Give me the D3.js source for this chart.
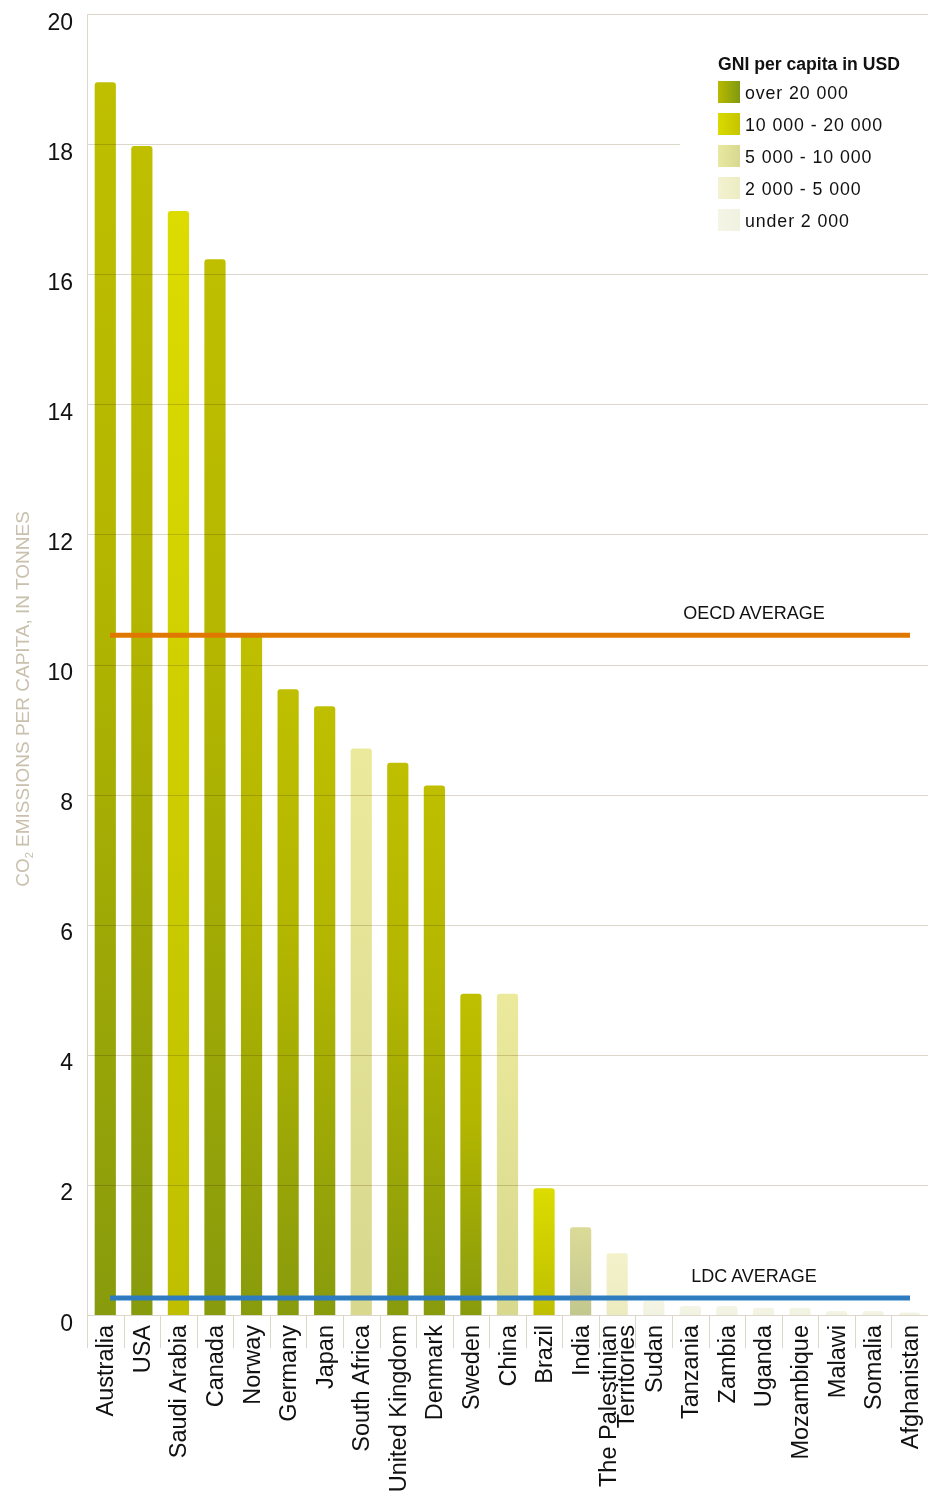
<!DOCTYPE html>
<html>
  <head>
    <style>
      body { margin: 0; background: #fff; }
      text { font-family: "Liberation Sans", Arial, sans-serif; }
      .tick-label { font-size: 23px; fill: #111; }
      .cat-label { font-size: 23.5px; fill: #111; }
      .grid line { stroke: #ddd6ca; stroke-width: 1; }
      .legend-text { font-size: 17.8px; letter-spacing: 0.9px; fill: #111; }
      .avg-label { font-size: 18px; fill: #111; }
    </style>
  </head>
  <body>
    <div id="chart"></div>
    <script src="https://d3js.org/d3.v7.min.js"></script>
    <script>
      // countries, in the order shown
      const countries = [
        "Australia", "USA", "Saudi Arabia", "Canada", "Norway", "Germany",
        "Japan", "South Africa", "United Kingdom", "Denmark", "Sweden",
        "China", "Brazil", "India", "The Palestinian Territories", "Sudan",
        "Tanzania", "Zambia", "Uganda", "Mozambique", "Malawi", "Somalia",
        "Afghanistan"
      ];
      // CO2 emissions per capita, tonnes
      const emissions = [
        18.95, 17.97, 16.97, 16.23, 10.45, 9.62, 9.36, 8.71, 8.49, 8.14, 4.94,
        4.94, 1.95, 1.35, 0.95, 0.22, 0.14, 0.14, 0.11, 0.11, 0.06, 0.06, 0.04
      ];
      // GNI group index (into incomeGroups)
      const incomeGroup = [
        0, 0, 1, 0, 0, 0, 0, 2, 0, 0, 0, 2, 1, 2, 3, 4, 4, 4, 4, 4, 4, 4, 4
      ];
      const incomeGroups = [
        "over 20 000", "10 000 - 20 000", "5 000 - 10 000",
        "2 000 - 5 000", "under 2 000"
      ];
      const yTicks = [0, 2, 4, 6, 8, 10, 12, 14, 16, 18, 20];
      const oecdAverage = 10.45;
      const ldcAverage = 0.26;

      const data = countries.map((c, i) => ({
        name: c, value: emissions[i], group: incomeGroup[i]
      }));

      const W = 933, H = 1493;
      const plotLeft = 87, plotRight = 928, plotTop = 14, plotBottom = 1315;

      const svg = d3.select("#chart").append("svg")
        .attr("width", W).attr("height", H);

      // gradients
      const defs = svg.append("defs");
      const barStops = [
        [["0", "#bfbf00"], ["0.4", "#b3b600"], ["1", "#889b0c"]],
        [["0", "#dcdc00"], ["1", "#bfbf00"]],
        [["0", "#ebea9c"], ["1", "#d8d88e"]],
        [["0", "#f3f2ca"], ["1", "#ecebc0"]],
        [["0", "#f5f5e6"], ["1", "#f2f2e2"]]
      ];
      const swatchStops = [
        [["0", "#b9b900"], ["1", "#7f9a10"]],
        [["0", "#dada00"], ["1", "#c5c500"]],
        [["0", "#e8e8a0"], ["1", "#d8d890"]],
        [["0", "#f3f2d2"], ["1", "#ececc2"]],
        [["0", "#f5f5e6"], ["1", "#f1f1e0"]]
      ];
      function addGrad(id, stops, horizontal) {
        const g = defs.append("linearGradient").attr("id", id)
          .attr("x1", 0).attr("y1", 0)
          .attr("x2", horizontal ? 1 : 0).attr("y2", horizontal ? 0 : 1);
        stops.forEach(s => g.append("stop").attr("offset", s[0]).attr("stop-color", s[1]));
      }
      barStops.forEach((s, i) => addGrad("bar" + i, s, false));
      swatchStops.forEach((s, i) => addGrad("sw" + i, s, true));
      addGrad("bar-india", [["0", "#dbdb98"], ["1", "#c2c78e"]], false);

      const x = d3.scaleBand().domain(countries).range([plotLeft, plotRight])
        .paddingInner(0.42).paddingOuter(0.21);
      const y = d3.scaleLinear().domain([0, 20]).range([plotBottom, plotTop]);
      const step = x.step();

      // bars with rounded tops
      function barPath(d) {
        const x0 = x(d.name), w = x.bandwidth();
        const y0 = y(d.value), h = plotBottom - y0;
        const r = Math.min(3, h, w / 2);
        return "M" + x0 + "," + plotBottom +
          "V" + (y0 + r) +
          "Q" + x0 + "," + y0 + " " + (x0 + r) + "," + y0 +
          "H" + (x0 + w - r) +
          "Q" + (x0 + w) + "," + y0 + " " + (x0 + w) + "," + (y0 + r) +
          "V" + plotBottom + "Z";
      }
      svg.append("g").selectAll("path").data(data).join("path")
        .attr("d", barPath)
        .attr("fill", d => d.name === "India" ? "url(#bar-india)" : "url(#bar" + d.group + ")");

      // gridlines, multiplied over the bars
      const grid = svg.append("g").attr("class", "grid")
        .style("mix-blend-mode", "multiply");
      grid.selectAll("line.h").data(yTicks).join("line").attr("class", "h")
        .attr("x1", plotLeft).attr("x2", plotRight)
        .attr("y1", d => Math.round(y(d)) + 0.5).attr("y2", d => Math.round(y(d)) + 0.5);
      grid.append("line")
        .attr("x1", plotLeft + 0.5).attr("x2", plotLeft + 0.5)
        .attr("y1", plotTop).attr("y2", plotBottom + 33);
      grid.selectAll("line.t").data(countries.slice(1)).join("line").attr("class", "t")
        .attr("x1", d => Math.round(x(d) - step * 0.21) + 0.5)
        .attr("x2", d => Math.round(x(d) - step * 0.21) + 0.5)
        .attr("y1", plotBottom).attr("y2", plotBottom + 33);

      // y tick labels
      svg.append("g").selectAll("text").data(yTicks).join("text")
        .attr("class", "tick-label")
        .attr("x", 73).attr("y", d => y(d) + 15.5)
        .attr("text-anchor", "end")
        .text(d => d);

      // y axis title
      const yt = svg.append("text")
        .attr("transform", "translate(29," + 699 + ") rotate(-90)")
        .attr("text-anchor", "middle")
        .style("font-size", "19px").style("fill", "#c9c0ad");
      yt.append("tspan").text("CO");
      yt.append("tspan").text("2").style("font-size", "11px").attr("dy", 4);
      yt.append("tspan").text(" EMISSIONS PER CAPITA, IN TONNES").attr("dy", -4);

      // category labels
      const cats = svg.append("g").selectAll("text").data(countries).join("text")
        .attr("class", "cat-label")
        .attr("text-anchor", "end")
        .attr("transform", d => "translate(" + (x(d) + x.bandwidth() / 2 + 8) + ",1325) rotate(-90)");
      cats.each(function (d) {
        const t = d3.select(this);
        if (d === "The Palestinian Territories") {
          t.append("tspan").attr("x", 0).attr("dy", -9).text("The Palestinian");
          t.append("tspan").attr("x", 0).attr("dy", 18).text("Territories");
        } else {
          t.text(d);
        }
      });

      // legend
      const lg = svg.append("g");
      lg.append("rect").attr("x", 680).attr("y", 38).attr("width", 253).attr("height", 204)
        .attr("fill", "#fff");
      lg.append("text").attr("x", 718).attr("y", 70)
        .style("font-size", "17.6px").style("font-weight", "bold").style("fill", "#111")
        .text("GNI per capita in USD");
      incomeGroups.forEach((g, i) => {
        lg.append("rect").attr("x", 718).attr("y", 81 + i * 32)
          .attr("width", 22).attr("height", 22).attr("fill", "url(#sw" + i + ")");
        lg.append("text").attr("class", "legend-text")
          .attr("x", 745).attr("y", 99 + i * 32).text(g);
      });

      // average lines
      const avgs = [
        { label: "OECD AVERAGE", value: oecdAverage, color: "#e07800" },
        { label: "LDC AVERAGE", value: ldcAverage, color: "#2e7bbf" }
      ];
      avgs.forEach(a => {
        svg.append("line")
          .attr("x1", 110).attr("x2", 910)
          .attr("y1", y(a.value)).attr("y2", y(a.value))
          .attr("stroke", a.color).attr("stroke-width", 5);
        svg.append("text").attr("class", "avg-label")
          .attr("x", 754).attr("y", y(a.value) - 16)
          .attr("text-anchor", "middle")
          .text(a.label);
      });
    </script>
  </body>
</html>
